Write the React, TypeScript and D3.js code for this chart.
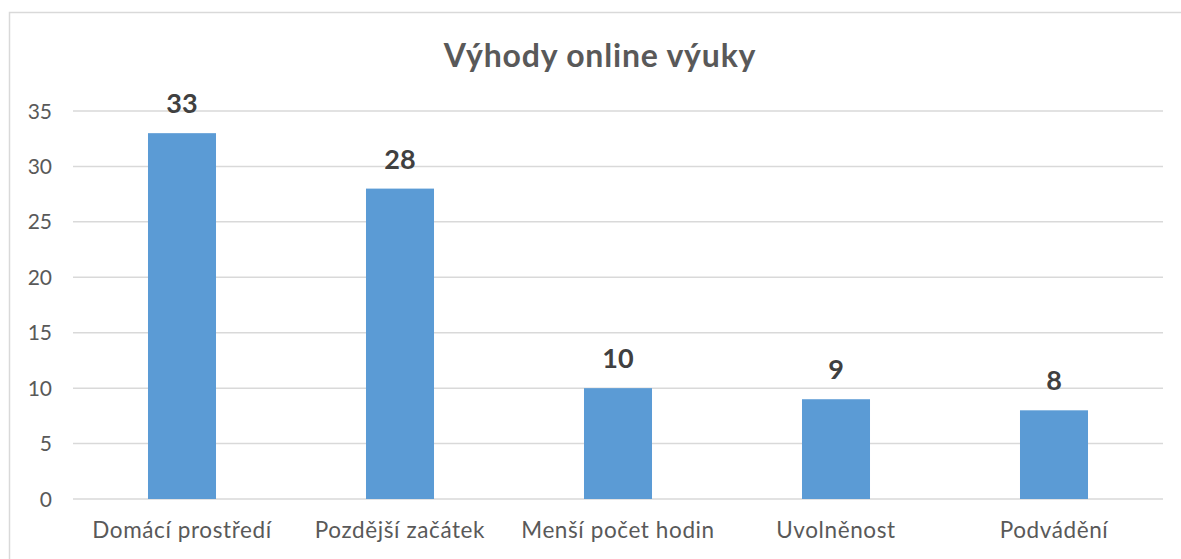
import React from "react";
import * as d3 from "d3";

const categories = ["Domácí prostředí", "Pozdější začátek", "Menší počet hodin", "Uvolněnost", "Podvádění"];
const values = [33, 28, 10, 9, 8];
const yTicks = [0, 5, 10, 15, 20, 25, 30, 35];
const title = "Výhody online výuky";

const W = 1181;
const H = 559;
const FONT = "Lato, 'Open Sans', sans-serif";

export default function App() {
  const x = d3.scaleBand<string>().domain(categories).range([73, 1163]).paddingInner(0.688).paddingOuter(0.344);
  const y = d3.scaleLinear().domain([0, 35]).range([499, 111]);

  return (
    <svg width={W} height={H} style={{ position: "absolute", left: 0, top: 0, background: "#fff" }}>
      <rect x={9.5} y={12.5} width={W + 20} height={H + 20} fill="#fff" stroke="#D9D9D9" strokeWidth={1.5} />
      <text x={600} y={67} textAnchor="middle" fontFamily={FONT} fontWeight={700} fontSize={32} letterSpacing={0.8} fill="#595959">
        {title}
      </text>
      {yTicks.map((t) => (
        <g key={t}>
          <line x1={73} x2={1163} y1={y(t)} y2={y(t)} stroke="#D9D9D9" strokeWidth={1.5} />
          <text x={52} y={y(t)} dy="0.36em" textAnchor="end" fontFamily={FONT} fontSize={21} fill="#595959">
            {t}
          </text>
        </g>
      ))}
      {categories.map((c, i) => (
        <g key={c}>
          <rect x={x(c)} y={y(values[i])} width={x.bandwidth()} height={y(0) - y(values[i])} fill="#5B9BD5" />
          <text
            x={(x(c) as number) + x.bandwidth() / 2}
            y={y(values[i]) - 20}
            textAnchor="middle"
            fontFamily={FONT}
            fontWeight={700}
            fontSize={27}
            fill="#404040"
          >
            {values[i]}
          </text>
          <text
            x={(x(c) as number) + x.bandwidth() / 2}
            y={538}
            textAnchor="middle"
            fontFamily={FONT}
            fontSize={22.5}
            letterSpacing={0.6}
            fill="#595959"
          >
            {c}
          </text>
        </g>
      ))}
    </svg>
  );
}
